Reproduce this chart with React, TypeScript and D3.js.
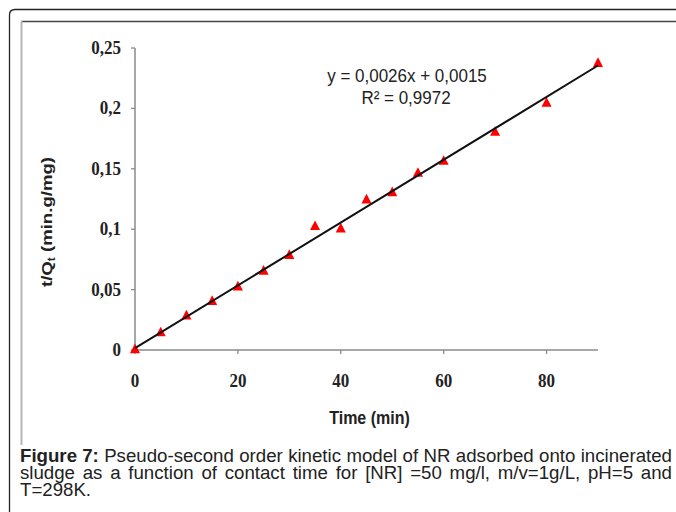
import React, { useMemo } from 'react';
import * as d3 from 'd3';

// ---- data ----
const timeMin = [0, 5, 10, 15, 20, 25, 30, 35, 40, 45, 50, 55, 60, 70, 80, 90];
const tOverQt = [0, 0.014, 0.028, 0.04, 0.052, 0.065, 0.078, 0.102, 0.1, 0.124, 0.13, 0.146, 0.156, 0.18, 0.204, 0.237];
const xTickValues = [0, 20, 40, 60, 80];
const yTickValues = [0, 0.05, 0.1, 0.15, 0.2, 0.25];
const yTickLabels = ['0', '0,05', '0,1', '0,15', '0,2', '0,25'];
const fitSlope = 0.0026;
const fitIntercept = 0.0015;
const equationLine = 'y = 0,0026x + 0,0015';
const r2Line = 'R² = 0,9972';
const xTitle = 'Time (min)';
const captionBold = 'Figure 7:';
const captionLine1 = 'Pseudo-second order kinetic model of NR adsorbed onto incinerated';
const captionLine2 = 'sludge as a function of contact time for [NR] =50 mg/l, m/v=1g/L, pH=5 and';
const captionLine3 = 'T=298K.';

const W = 676;
const H = 512;
const SANS = '"Liberation Sans", Arial, sans-serif';
const SERIF = '"Liberation Serif", "Times New Roman", serif';
const SY = 1.1;

function useMeasure() {
  return useMemo(() => {
    const ctx = document.createElement('canvas').getContext('2d')!;
    return (text: string, size: number, bold: boolean) => {
      ctx.font = `${bold ? 'bold ' : ''}${size}px ${SANS}`;
      return ctx.measureText(text).width;
    };
  }, []);
}

export default function App() {
  const x = d3.scaleLinear().domain([0, 90]).range([135, 598]);
  const y = d3.scaleLinear().domain([0, 0.25]).range([350, 48]);
  const measure = useMeasure();

  const tri = d3.symbol().type(d3.symbolTriangle).size(44)()!;
  const fitLine = d3.line<number>().x((d) => x(d)).y((d) => y(fitSlope * d + fitIntercept));

  // caption layout (justified)
  const left = 20;
  const right = 672;
  const lines = [
    [{ t: captionBold, b: true }, ...captionLine1.split(' ').map((t) => ({ t, b: false }))],
    captionLine2.split(' ').map((t) => ({ t, b: false })),
    captionLine3.split(' ').map((t) => ({ t, b: false })),
  ];
  const nat = (ws: { t: string; b: boolean }[], f: number) =>
    ws.reduce((s, w) => s + measure(w.t, f, w.b), 0) + (ws.length - 1) * measure(' ', f, false);
  const F = Math.min(19, (17 * (right - left - 1)) / nat(lines[0], 17));
  const baselines = [462, 479, 496];
  const laidOut = lines.map((ws, li) => {
    const widths = ws.map((w) => measure(w.t, F, w.b));
    const sum = widths.reduce((a, b) => a + b, 0);
    const gap = li < 2 && ws.length > 1 ? (right - left - sum) / (ws.length - 1) : measure(' ', F, false);
    let cx = left;
    return ws.map((w, i) => {
      const o = { ...w, x: cx };
      cx += widths[i] + gap;
      return o;
    });
  });

  return (
    <svg width={W} height={H} style={{ position: 'absolute', left: 0, top: 0, background: '#fff' }}>
      <rect width={W} height={H} fill="#fff" />
      {/* outer frame */}
      <path d={`M9.5,${H + 2} L9.5,15 Q9.5,9.5 15,9.5 L${W + 2},9.5`} fill="none" stroke="#222" strokeWidth={1.3} />
      {/* inner picture frame */}
      <line x1={21} y1={21.5} x2={W + 2} y2={21.5} stroke="#444" strokeWidth={1.6} />
      <line x1={21.5} y1={21} x2={21.5} y2={445} stroke="#b5b5b5" strokeWidth={2} />

      {/* axes */}
      <line x1={x(0)} y1={y(0.25)} x2={x(0)} y2={y(0)} stroke="#8a8a8a" strokeWidth={1.5} />
      <line x1={x(0)} y1={y(0)} x2={x(90)} y2={y(0)} stroke="#8a8a8a" strokeWidth={1.5} />
      {yTickValues.map((v, i) => (
        <g key={'yt' + i}>
          <line x1={x(0) - 4} x2={x(0)} y1={y(v)} y2={y(v)} stroke="#8a8a8a" strokeWidth={1.3} />
          <text
            transform={`translate(121,${y(v) + 6}) scale(1,${SY})`}
            textAnchor="end"
            fontFamily={SERIF}
            fontWeight="bold"
            fontSize={17}
            fill="#222"
          >
            {yTickLabels[i]}
          </text>
        </g>
      ))}
      {xTickValues.map((v, i) => (
        <g key={'xt' + i}>
          <line x1={x(v)} x2={x(v)} y1={y(0)} y2={y(0) + 4} stroke="#8a8a8a" strokeWidth={1.3} />
          <text
            transform={`translate(${x(v)},387) scale(1,${SY})`}
            textAnchor="middle"
            fontFamily={SERIF}
            fontWeight="bold"
            fontSize={17}
            fill="#222"
          >
            {v}
          </text>
        </g>
      ))}

      {/* axis titles */}
      <text
        transform={`translate(${x(45) + 3},424) scale(1,${SY + 0.05})`}
        textAnchor="middle"
        fontFamily={SANS}
        fontWeight="bold"
        fontSize={16}
        fill="#222"
      >
        {xTitle}
      </text>
      <text
        transform={`translate(52,222) scale(1,${SY + 0.1}) rotate(-90)`}
        textAnchor="middle"
        fontFamily={SANS}
        fontWeight="bold"
        fontSize={15.5}
        fill="#222"
      >
        t/Q
        <tspan fontSize={10} dy={3}>t</tspan>
        <tspan dy={-3}> (min.g/mg)</tspan>
      </text>

      {/* markers */}
      {timeMin.map((t, i) => (
        <path
          key={'m' + i}
          d={tri}
          transform={`translate(${x(t)},${y(tOverQt[i])}) scale(1,1.1)`}
          fill="#ff0000"
        />
      ))}

      {/* fit line */}
      <path d={fitLine([0, 90]) || ''} fill="none" stroke="#111" strokeWidth={2} />

      {/* equation */}
      <text
        transform={`translate(407,82) scale(1,${SY})`}
        textAnchor="middle"
        fontFamily={SANS}
        fontSize={17}
        fill="#222"
      >
        {equationLine}
      </text>
      <text
        transform={`translate(406,104) scale(1,${SY})`}
        textAnchor="middle"
        fontFamily={SANS}
        fontSize={17}
        fill="#222"
      >
        {r2Line}
      </text>

      {/* caption */}
      {laidOut.map((ws, li) => (
        <text key={'cl' + li} y={baselines[li]} fontFamily={SANS} fontSize={F} fill="#222">
          {ws.map((w, i) => (
            <tspan key={i} x={w.x} fontWeight={w.b ? 'bold' : 'normal'}>
              {w.t}
            </tspan>
          ))}
        </text>
      ))}
    </svg>
  );
}
